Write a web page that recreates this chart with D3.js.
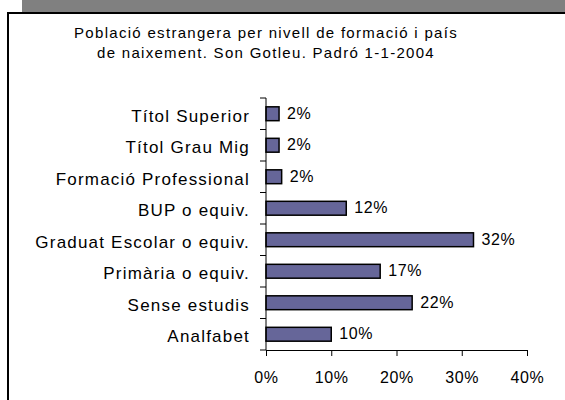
<!DOCTYPE html>
<html><head><meta charset="utf-8">
<script src="https://cdn.jsdelivr.net/npm/d3@7"></script>
<style>body{margin:0;background:#fff}svg{display:block}</style>
</head><body>
<svg id="c" width="565" height="400"></svg>
<script>
const categories = ["Títol Superior","Títol Grau Mig","Formació Professional","BUP o equiv.","Graduat Escolar o equiv.","Primària o equiv.","Sense estudis","Analfabet"];
const values = [2.0, 2.0, 2.4, 12.3, 31.8, 17.5, 22.4, 10.0];
const valueLabels = ["2%","2%","2%","12%","32%","17%","22%","10%"];
const xTicks = [0,10,20,30,40];
const titleLines = ["Població estrangera per nivell de formació i país","de naixement. Son Gotleu. Padró 1-1-2004"];

const svg = d3.select("#c");
const font = "Liberation Sans, Arial, sans-serif";
// header band and frame
svg.append("rect").attr("x",22).attr("y",0).attr("width",543).attr("height",12).attr("fill","#808080");
svg.append("path").attr("d","M8,400V13H565").attr("fill","none").attr("stroke","#000").attr("stroke-width",2);

const x = d3.scaleLinear().domain([0,40]).range([266,527]);
const y = d3.scaleBand().domain(categories).range([98,350]).paddingInner(0.56).paddingOuter(0.28);

svg.selectAll("text.t").data(titleLines).join("text")
  .attr("x",266).attr("y",(d,i)=>38+i*20).attr("text-anchor","middle")
  .attr("font-family",font).attr("font-size",15).attr("letter-spacing",1.3).attr("fill","#000").text(d=>d);

svg.selectAll("rect.bar").data(values).join("rect").attr("class","bar")
  .attr("x",x(0)).attr("y",(d,i)=>y(categories[i]))
  .attr("width",d=>x(d)-x(0)).attr("height",y.bandwidth())
  .attr("fill","#666699").attr("stroke","#000").attr("stroke-width",1.5);

svg.selectAll("text.v").data(values).join("text")
  .attr("x",d=>x(d)+8).attr("y",(d,i)=>y(categories[i])+y.bandwidth()/2+5)
  .attr("font-family",font).attr("font-size",16).attr("letter-spacing",0.6).text((d,i)=>valueLabels[i]);

// y axis
const yAxisScale = d3.scaleLinear().domain([0,8]).range([98,350]);
const ga = svg.append("g");
ga.append("line").attr("x1",266).attr("x2",266).attr("y1",98).attr("y2",350).attr("stroke","#000");
ga.selectAll("line.yt").data(d3.range(0,9)).join("line")
  .attr("x1",260).attr("x2",266).attr("y1",d=>yAxisScale(d)).attr("y2",d=>yAxisScale(d)).attr("stroke","#000");
svg.selectAll("text.c").data(categories).join("text")
  .attr("x",250).attr("y",d=>y(d)+y.bandwidth()/2+8).attr("text-anchor","end")
  .attr("font-family",font).attr("font-size",17).attr("letter-spacing",1.2).text(d=>d);

// x axis
const xa = d3.axisBottom(x).tickValues(xTicks).tickFormat(d=>d+"%").tickSize(6).tickSizeOuter(0);
const gx = svg.append("g").attr("transform","translate(0,350)").call(xa);
gx.select(".domain").attr("stroke","#000");
gx.selectAll(".tick line").attr("stroke","#000");
gx.selectAll("text").attr("font-family",font).attr("font-size",16).attr("letter-spacing",0.6).attr("fill","#000").attr("dy",0).attr("y",33);
</script>
</body></html>
